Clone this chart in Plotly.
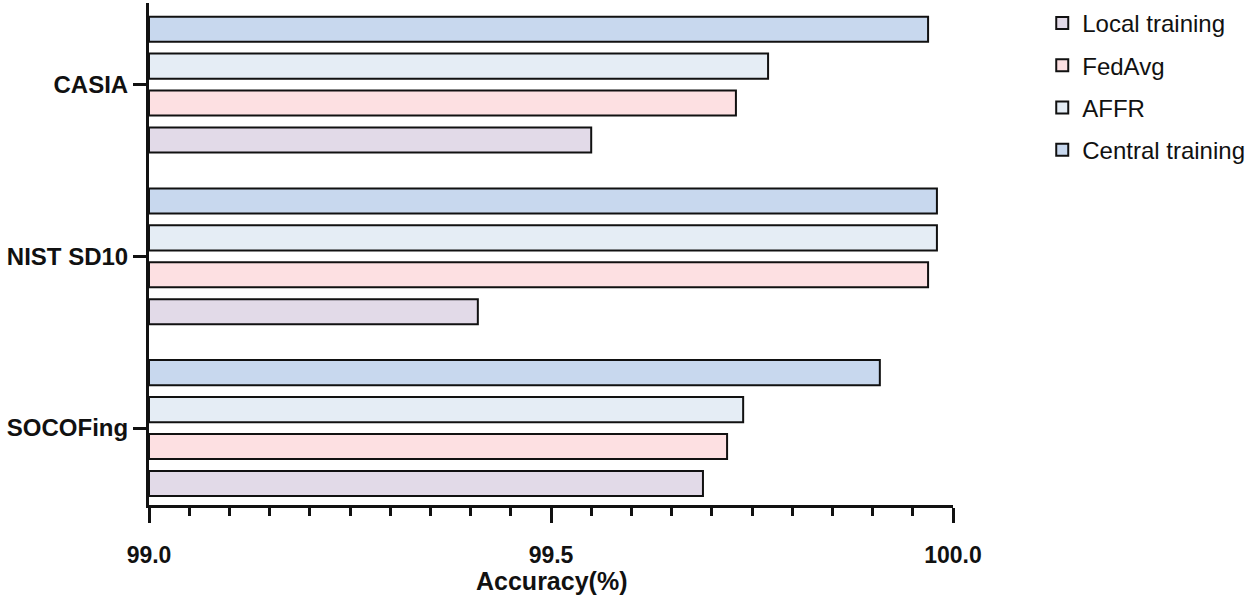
import plotly.graph_objects as go

categories = ["SOCOFing", "NIST SD10", "CASIA"]
series_names = ["Local training", "FedAvg", "AFFR", "Central training"]
local_training = [99.689, 99.409, 99.550]
fedavg = [99.719, 99.969, 99.730]
affr = [99.739, 99.980, 99.770]
central_training = [99.909, 99.980, 99.969]
series_values = [local_training, fedavg, affr, central_training]
colors = ["#E2DAE8", "#FDE0E2", "#E5EDF5", "#C8D8EE"]
x_tick_vals = [99.0, 99.5, 100.0]
x_tick_text = ["99.0", "99.5", "100.0"]

FONT = "Liberation Sans"

fig = go.Figure()
for name, vals, col in zip(series_names, series_values, colors):
    fig.add_trace(go.Bar(
        y=categories, x=[v - 99.0 for v in vals], base=99.0, name=name,
        orientation="h", legendgroup=name,
        marker=dict(color=col, line=dict(color="#111111", width=2)),
    ))

M_L, M_R, M_T, M_B = 149, 302, 3, 94
plot_h = 599 - M_T - M_B

fig.update_layout(
    width=1255, height=599,
    margin=dict(l=M_L, r=M_R, t=M_T, b=M_B, autoexpand=False),
    paper_bgcolor="white", plot_bgcolor="white",
    barmode="group", bargap=0.14, bargroupgap=0.32,
    font=dict(family=FONT, color="#111111"),
    legend=dict(x=1.111, y=1.004, xanchor="left", yanchor="top",
                font=dict(size=24, family=FONT, color="#111111"),
                tracegroupgap=8, bgcolor="rgba(0,0,0,0)"),
    showlegend=True,
    annotations=[dict(text="<b>Accuracy(%)</b>", x=0.5, y=-(581 - (599 - M_B)) / plot_h,
                      xref="paper", yref="paper", yanchor="middle",
                      showarrow=False, font=dict(size=25, family=FONT, color="#111111"))],
)

fig.update_xaxes(
    range=[99.0, 100.0], tickvals=x_tick_vals, ticktext=x_tick_text,
    showgrid=False, zeroline=False, automargin=False,
    showline=True, linecolor="#111111", linewidth=3,
    ticks="outside", ticklen=15, tickwidth=3, tickcolor="#111111",
    tickfont=dict(size=23, family=FONT, color="#111111", weight="bold"),
    ticklabelstandoff=12,
    minor=dict(dtick=0.05, ticks="outside", ticklen=8, tickwidth=2.5, tickcolor="#111111", showgrid=False),
)
fig.update_yaxes(
    range=[-0.448, 2.475], automargin=False,
    showgrid=False, zeroline=False,
    showline=True, linecolor="#111111", linewidth=3,
    ticks="outside", ticklen=13, tickwidth=3, tickcolor="#111111",
    tickfont=dict(size=24, family=FONT, color="#111111", weight="bold"),
)

fig.write_html("out.html", config={"displayModeBar": False},
               post_script="document.body.style.margin='0';")
